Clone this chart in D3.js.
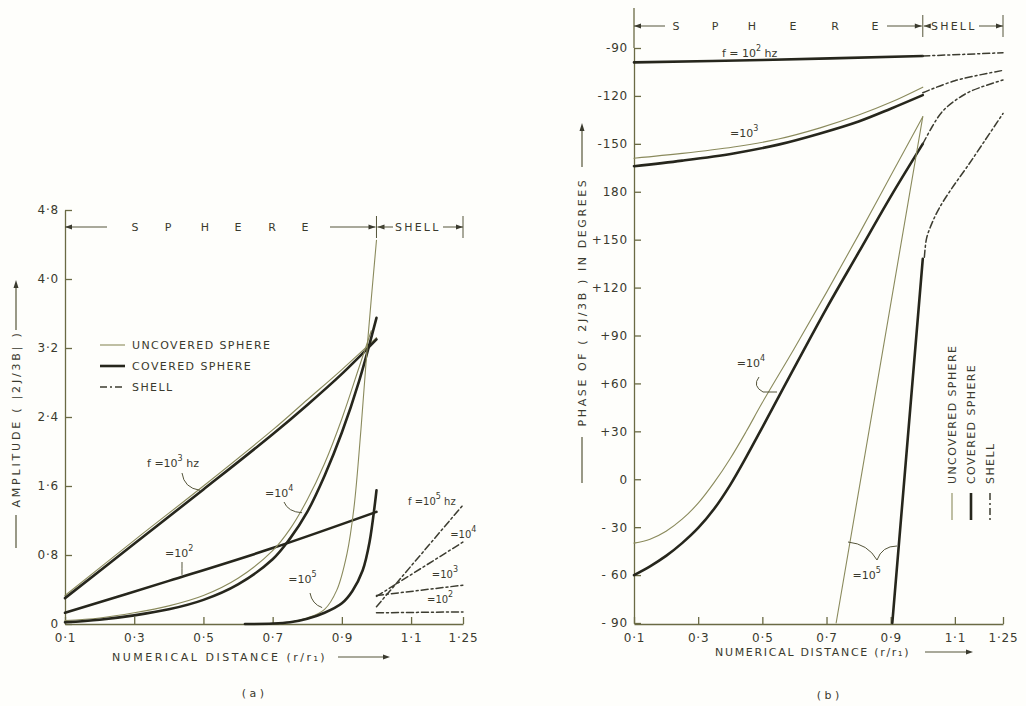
<!DOCTYPE html>
<html>
<head>
<meta charset="utf-8">
<script src="https://cdn.jsdelivr.net/npm/d3@7"></script>
<style>
    body { margin: 0; background: #fefefb; }
    text { font-family: "DejaVu Sans", sans-serif; fill: #3a3a2e; }
</style>
</head>
<body>
<svg id="fig" width="1026" height="706"></svg>
<script>
// ---- data ----
// x = numerical distance r/r1, (a) amplitude |2J/3B|, (b) phase in degrees (unwrapped, -450..-90)
const xTicks = [0.1, 0.3, 0.5, 0.7, 0.9, 1.1, 1.25];
const xTickLabels = ["0·1", "0·3", "0·5", "0·7", "0·9", "1·1", "1·25"];
const ampTicks = [0, 0.8, 1.6, 2.4, 3.2, 4.0, 4.8];
const ampTickLabels = ["0", "0·8", "1·6", "2·4", "3·2", "4·0", "4·8"];
const phaseTicks = [-90, -120, -150, -180, -210, -240, -270, -300, -330, -360, -390, -420, -450];
const phaseTickLabels = ["-90", "-120", "-150", "180", "+150", "+120", "+90", "+60", "+30", "0", "- 30", "- 60", "- 90"];

// (a) amplitude
const ampCovered1e2 = [[0.1, 0.13], [0.4, 0.5], [0.7, 0.88], [1.0, 1.3]];
const ampCovered1e3 = [[0.1, 0.3], [0.3, 0.93], [0.5, 1.56], [0.7, 2.2], [0.8, 2.54], [0.9, 2.9], [1.0, 3.3]];
const ampUncovered1e3 = [[0.1, 0.33], [0.3, 0.97], [0.5, 1.6], [0.7, 2.25], [0.8, 2.6], [0.9, 2.95], [1.0, 3.32]];
const ampCovered1e4 = [[0.1, 0.02], [0.2, 0.05], [0.3, 0.1], [0.4, 0.17], [0.5, 0.28], [0.6, 0.46], [0.7, 0.75], [0.75, 0.99], [0.8, 1.3], [0.85, 1.72], [0.9, 2.22], [0.95, 2.82], [1.0, 3.55]];
const ampUncovered1e4 = [[0.1, 0.04], [0.2, 0.07], [0.3, 0.13], [0.4, 0.21], [0.5, 0.33], [0.6, 0.53], [0.7, 0.85], [0.75, 1.1], [0.8, 1.44], [0.85, 1.86], [0.9, 2.38], [0.95, 2.98], [0.985, 3.4]];
const ampCovered1e5 = [[0.62, 0], [0.7, 0.005], [0.75, 0.02], [0.8, 0.06], [0.85, 0.13], [0.9, 0.24], [0.93, 0.38], [0.96, 0.62], [0.98, 0.95], [1.0, 1.55]];
const ampUncovered1e5 = [[0.72, 0], [0.76, 0.03], [0.8, 0.07], [0.85, 0.17], [0.885, 0.39], [0.915, 0.82], [0.935, 1.35], [0.955, 2.25], [0.975, 3.3], [1.0, 4.45]];
const ampShell1e2 = [[1.0, 0.13], [1.25, 0.14]];
const ampShell1e3 = [[1.0, 0.33], [1.25, 0.45]];
const ampShell1e4 = [[1.0, 0.32], [1.25, 0.95]];
const ampShell1e5 = [[1.0, 0.2], [1.25, 1.38]];

// (b) phase
const phCovered1e2 = [[0.1, -99], [0.5, -97.5], [1.0, -95]];
const phShell1e2 = [[1.0, -95], [1.25, -93]];
const phUncovered1e3 = [[0.1, -159], [0.25, -156], [0.41, -152], [0.55, -147], [0.68, -140], [0.8, -132], [0.9, -124], [1.0, -114.5]];
const phCovered1e3 = [[0.1, -164], [0.25, -160.5], [0.41, -156], [0.55, -150.5], [0.68, -143.5], [0.8, -136], [0.9, -128], [1.0, -119.5]];
const phShell1e3 = [[1.0, -118], [1.1, -110.5], [1.25, -104]];
const phUncovered1e4 = [[0.1, -400], [0.15, -397.5], [0.2, -392.5], [0.25, -385], [0.3, -375], [0.35, -362], [0.4, -347], [0.45, -330], [0.5, -312], [0.6, -278], [0.7, -243], [0.8, -207], [0.9, -170], [1.0, -133]];
const phCovered1e4 = [[0.1, -420], [0.15, -414.5], [0.2, -408], [0.25, -400], [0.3, -390.5], [0.35, -378.5], [0.4, -363.5], [0.45, -346], [0.5, -327.5], [0.6, -290], [0.7, -253], [0.8, -218], [0.9, -183], [1.0, -150]];
const phShell1e4 = [[1.0, -150], [1.03, -139], [1.06, -130], [1.1, -123], [1.15, -117], [1.25, -110]];
const phUncovered1e5 = [[0.73, -450], [1.0, -133]];
const phCovered1e5 = [[0.905, -450], [1.0, -222]];
const phShell1e5 = [[1.005, -221], [1.012, -209], [1.03, -199], [1.052, -190], [1.09, -178], [1.136, -165], [1.19, -149], [1.25, -131]];

const ink = "#26261c", olive = "#8a8a5c", axisCol = "#6a6a44";
const styles = {
    covered: {w: 2.6, c: ink, dash: null},
    uncovered: {w: 1.1, c: olive, dash: null},
    shell: {w: 1.5, c: "#3c3c30", dash: "7,3,2,3"}
};

const svg = d3.select("#fig");

// scales
const xa = d3.scaleLinear().domain([0.1, 1.25]).range([65, 463]);
const ya = d3.scaleLinear().domain([0, 4.8]).range([624, 210]);
const xb = d3.scaleLinear().domain([0.1, 1.25]).range([634, 1003]);
const yb = d3.scaleLinear().domain([-450, -90]).range([623, 48]);

function drawCurve(data, x, y, kind) {
    let st = styles[kind];
    let line = d3.line().x(d => x(d[0])).y(d => y(d[1])).curve(d3.curveCatmullRom.alpha(0.5));
    svg.append("path")
        .attr("d", line(data))
        .attr("fill", "none")
        .attr("stroke", st.c)
        .attr("stroke-width", st.w)
        .attr("stroke-dasharray", st.dash)
        .attr("stroke-linecap", "round");
}

function styleAxis(g) {
    g.selectAll("path, line").attr("stroke", axisCol).attr("stroke-width", 1.3);
    g.selectAll("text").attr("font-size", 12).attr("fill", "#3a3a2e").attr("letter-spacing", 0.8)
        .attr("font-family", '"DejaVu Sans", sans-serif');
}

function arrowHead(x, y, dir) {
    // small filled triangle, tip at (x,y)
    let pts;
    if (dir === "left") pts = [[x, y], [x + 7, y - 2.5], [x + 7, y + 2.5]];
    else if (dir === "right") pts = [[x, y], [x - 7, y - 2.5], [x - 7, y + 2.5]];
    else pts = [[x, y], [x - 2.5, y + 8], [x + 2.5, y + 8]];
    svg.append("polygon").attr("points", pts.map(p => p.join(",")).join(" ")).attr("fill", "#3a3a2e");
}

function hline(x1, x2, y, w) {
    svg.append("line").attr("x1", x1).attr("x2", x2).attr("y1", y).attr("y2", y)
        .attr("stroke", "#55553a").attr("stroke-width", w || 1);
}

function vline(x, y1, y2, w) {
    svg.append("line").attr("x1", x).attr("x2", x).attr("y1", y1).attr("y2", y2)
        .attr("stroke", "#55553a").attr("stroke-width", w || 1);
}

function label(x, y, base, sup, size) {
    let t = svg.append("text").attr("x", x).attr("y", y).attr("font-size", size || 11);
    t.append("tspan").text(base[0]);
    if (sup) {
        t.append("tspan").attr("dy", -6).attr("font-size", 8).text(sup);
        t.append("tspan").attr("dy", 6).text(base[1] || "");
    }
    return t;
}

function pointer(p0, c, p1) {
    svg.append("path")
        .attr("d", `M${p0[0]},${p0[1]} Q${c[0]},${c[1]} ${p1[0]},${p1[1]}`)
        .attr("fill", "none").attr("stroke", "#55553a").attr("stroke-width", 1);
}

function header(x, s, y, letters, lineEnd, bnd, shellStart, end) {
    hline(x(0.1), lineEnd[0], y);
    arrowHead(x(0.1), y, "left");
    letters.forEach((d, i) => svg.append("text").attr("x", d).attr("y", y + 4)
        .attr("font-size", 11).attr("text-anchor", "middle").text(s[i]));
    hline(lineEnd[1], bnd - 1, y);
    arrowHead(bnd - 1, y, "right");
    arrowHead(bnd + 1, y, "left");
    hline(bnd + 1, shellStart, y);
    svg.append("text").attr("x", shellStart + 2).attr("y", y + 4)
        .attr("font-size", 11).attr("letter-spacing", 2.2).text("SHELL");
    hline(shellStart + 50, end, y);
    arrowHead(end, y, "right");
    vline(bnd, y - 11, y + 11);
    vline(end, y - 11, y + 11);
}

// ---------- panel (a) ----------
let gxa = svg.append("g").attr("transform", `translate(0,${ya(0)})`)
    .call(d3.axisBottom(xa).tickValues(xTicks).tickFormat((d, i) => xTickLabels[i])
        .tickSizeInner(-7).tickSizeOuter(0).tickPadding(9));
styleAxis(gxa);
let gya = svg.append("g").attr("transform", `translate(${xa(0.1)},0)`)
    .call(d3.axisLeft(ya).tickValues(ampTicks).tickFormat((d, i) => ampTickLabels[i])
        .tickSizeInner(-7).tickSizeOuter(0).tickPadding(6));
styleAxis(gya);

header(xa, "SPHERE", 227, [135, 168, 205, 238, 272, 305], [107, 330], xa(1.0), 393, xa(1.25));

drawCurve(ampUncovered1e3, xa, ya, "uncovered");
drawCurve(ampCovered1e3, xa, ya, "covered");
drawCurve(ampCovered1e2, xa, ya, "covered");
drawCurve(ampUncovered1e4, xa, ya, "uncovered");
drawCurve(ampCovered1e4, xa, ya, "covered");
drawCurve(ampUncovered1e5, xa, ya, "uncovered");
drawCurve(ampCovered1e5, xa, ya, "covered");
[ampShell1e2, ampShell1e3, ampShell1e4, ampShell1e5].forEach(d => drawCurve(d, xa, ya, "shell"));

// legend (a)
const legendNames = ["UNCOVERED SPHERE", "COVERED SPHERE", "SHELL"];
const legendKinds = ["uncovered", "covered", "shell"];
legendNames.forEach((n, i) => {
    let y = 345 + i * 21, st = styles[legendKinds[i]];
    svg.append("line").attr("x1", 100).attr("x2", 125).attr("y1", y).attr("y2", y)
        .attr("stroke", st.c).attr("stroke-width", st.w).attr("stroke-dasharray", st.dash);
    svg.append("text").attr("x", 132).attr("y", y + 4).attr("font-size", 11)
        .attr("letter-spacing", 1.4).text(n);
});

// frequency labels (a)
label(xa(0.337), ya(1.82), ["f =10", " hz"], "3");
pointer([182, 473], [184, 488], [xa(0.49), ya(1.55)]);
label(xa(0.678), ya(1.47), ["=10"], "4");
pointer([284, 502], [288, 512], [xa(0.785), ya(1.29)]);
label(xa(0.389), ya(0.78), ["=10"], "2");
pointer([182, 562], [182, 568], [xa(0.438), ya(0.57)]);
label(xa(0.745), ya(0.475), ["=10"], "5");
pointer([310, 593], [312, 604], [xa(0.843), ya(0.19)]);
label(xa(1.091), ya(1.38), ["f =10", " hz"], "5", 10);
label(xa(1.213), ya(1.0), ["=10"], "4", 10);
label(xa(1.16), ya(0.53), ["=10"], "3", 10);
label(xa(1.146), ya(0.24), ["=10"], "2", 10);

// axis titles (a)
svg.append("text").attr("x", 112).attr("y", 661).attr("font-size", 11)
    .attr("letter-spacing", 2.5).text("NUMERICAL DISTANCE (r/r₁)");
hline(338, 385, 657, 1.2);
arrowHead(390, 657, "right");
svg.append("text").attr("transform", "translate(20,419) rotate(-90)")
    .attr("text-anchor", "middle").attr("font-size", 11).attr("letter-spacing", 2.8)
    .text("AMPLITUDE ( |2J/3B| )");
vline(16, 515, 548, 1.2);
vline(16, 288, 330, 1.2);
arrowHead(16, 280, "up");
svg.append("text").attr("x", 253).attr("y", 697).attr("font-size", 11)
    .attr("text-anchor", "middle").text("( a )");

// ---------- panel (b) ----------
let gxb = svg.append("g").attr("transform", `translate(0,${yb(-450) + 1})`)
    .call(d3.axisBottom(xb).tickValues(xTicks).tickFormat((d, i) => xTickLabels[i])
        .tickSizeInner(-7).tickSizeOuter(0).tickPadding(9));
styleAxis(gxb);
let gyb = svg.append("g").attr("transform", `translate(${xb(0.1)},0)`)
    .call(d3.axisLeft(yb).tickValues(phaseTicks).tickFormat((d, i) => phaseTickLabels[i])
        .tickSizeInner(-7).tickSizeOuter(0).tickPadding(6));
styleAxis(gyb);
svg.append("line").attr("x1", xb(0.1)).attr("x2", xb(0.1)).attr("y1", 8).attr("y2", yb(-90))
    .attr("stroke", axisCol).attr("stroke-width", 1.3);

header(xb, "SPHERE", 26, [676, 715, 752, 793, 835, 875], [665, 887], xb(1.0), 929, xb(1.25));

drawCurve(phCovered1e2, xb, yb, "covered");
drawCurve(phUncovered1e3, xb, yb, "uncovered");
drawCurve(phCovered1e3, xb, yb, "covered");
drawCurve(phUncovered1e4, xb, yb, "uncovered");
drawCurve(phCovered1e4, xb, yb, "covered");
drawCurve(phUncovered1e5, xb, yb, "uncovered");
drawCurve(phCovered1e5, xb, yb, "covered");
[phShell1e2, phShell1e3, phShell1e4, phShell1e5].forEach(d => drawCurve(d, xb, yb, "shell"));

// frequency labels (b)
label(xb(0.374), yb(-95.6), ["f = 10", " hz"], "2");
label(xb(0.399), yb(-145.8), ["=10"], "3");
label(xb(0.42), yb(-290), ["=10"], "4");
pointer([759, 377], [752, 386], [763, 392]);
hline(763, 777, 392);
label(xb(0.781), yb(-422.5), ["=10"], "5");
pointer([848, 542], [868, 544], [877, 560]);
pointer([877, 560], [882, 546], [897, 546]);

// legend (b), rotated
legendNames.forEach((n, i) => {
    let x = 952 + i * 19, st = styles[legendKinds[i]];
    svg.append("line").attr("x1", x).attr("x2", x).attr("y1", 493).attr("y2", 520)
        .attr("stroke", st.c).attr("stroke-width", st.w).attr("stroke-dasharray", st.dash);
    svg.append("text").attr("transform", `translate(${x + 4},484) rotate(-90)`)
        .attr("font-size", 11).attr("letter-spacing", 1.4).text(n);
});

// axis titles (b)
svg.append("text").attr("x", 715).attr("y", 656).attr("font-size", 11)
    .attr("letter-spacing", 1.7).text("NUMERICAL DISTANCE (r/r₁)");
hline(925, 968, 652, 1.2);
arrowHead(973, 652, "right");
svg.append("text").attr("transform", "translate(586,302) rotate(-90)")
    .attr("text-anchor", "middle").attr("font-size", 11).attr("letter-spacing", 2.6)
    .text("PHASE OF ( 2J/3B ) IN DEGREES");
vline(582, 437, 483, 1.2);
vline(582, 131, 167, 1.2);
arrowHead(582, 123, "up");
svg.append("text").attr("x", 828).attr("y", 699).attr("font-size", 11)
    .attr("text-anchor", "middle").text("( b )");
</script>
</body>
</html>
